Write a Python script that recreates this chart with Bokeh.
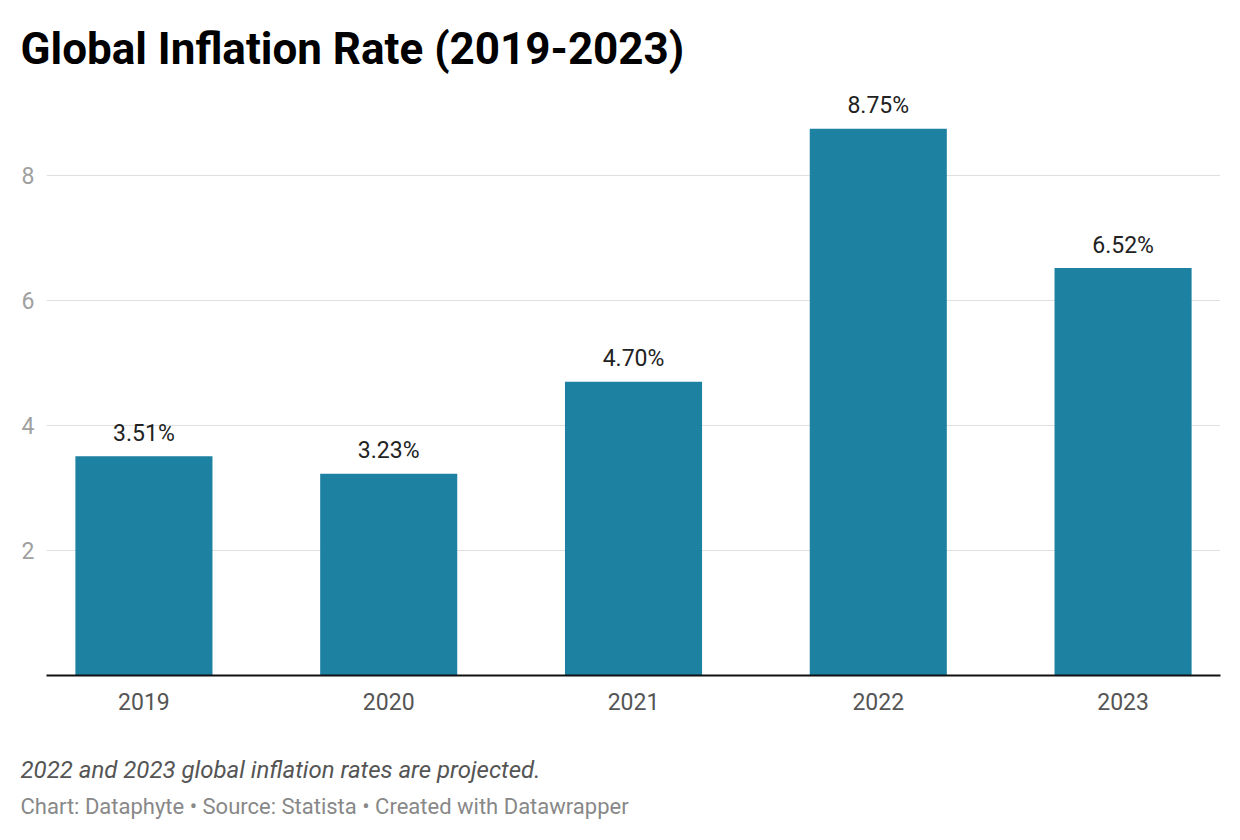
from bokeh.plotting import figure
from bokeh.models import Range1d, FixedTicker, Title, ColumnDataSource
from bokeh.core.properties import value
from bokeh.embed import file_html
from bokeh.resources import INLINE

years = ["2019", "2020", "2021", "2022", "2023"]
rates = [3.51, 3.23, 4.70, 8.75, 6.52]
labels = ["3.51%", "3.23%", "4.70%", "8.75%", "6.52%"]
y_ticks = [2, 4, 6, 8]

title_text = "Global Inflation Rate (2019-2023)"
note_text = "2022 and 2023 global inflation rates are projected."
source_text = "Chart: Dataphyte \u2022 Source: Statista \u2022 Created with Datawrapper"

xs = list(range(len(years)))
src = ColumnDataSource(dict(x=xs, top=rates, label=labels))

FONT = "Roboto"

p = figure(width=1240, height=840, output_backend="svg", toolbar_location=None,
           x_range=Range1d(-0.398, 4.398), y_range=Range1d(0, 9.28),
           min_border_left=46, min_border_right=20, min_border_top=95, min_border_bottom=165,
           background_fill_color="white", border_fill_color="white")
p.outline_line_color = None

p.title.text = title_text
p.title.text_font = FONT
p.title.text_font_size = "44px"
p.title.text_font_style = "bold"
p.title.text_color = "#000000"
p.title.align = "left"
p.title.offset = -26
p.title.standoff = 41

p.vbar(x="x", top="top", width=0.56, bottom=0, source=src, color="#1d81a2", line_color=None)
p.text(x="x", y="top", text="label", source=src, text_align="center", text_baseline="alphabetic",
       y_offset=-23, text_font=value(FONT), text_font_size="23px", text_color="#222222")

# axes
p.xaxis.ticker = FixedTicker(ticks=xs)
p.xaxis.major_label_overrides = {i: y for i, y in enumerate(years)}
p.xaxis.major_tick_line_color = None
p.xaxis.minor_tick_line_color = None
p.xaxis.axis_line_color = "#111111"
p.xaxis.axis_line_width = 2
p.xaxis.major_label_text_font = FONT
p.xaxis.major_label_text_font_size = "23px"
p.xaxis.major_label_text_color = "#555555"
p.xaxis.major_label_standoff = 11

p.yaxis.ticker = FixedTicker(ticks=y_ticks)
p.yaxis.axis_line_color = None
p.yaxis.major_tick_line_color = None
p.yaxis.minor_tick_line_color = None
p.yaxis.major_label_text_font = FONT
p.yaxis.major_label_text_font_size = "23px"
p.yaxis.major_label_text_color = "#a0a0a0"
p.yaxis.major_label_standoff = 6

p.xgrid.grid_line_color = None
p.ygrid.grid_line_color = "#e0e0e0"
p.ygrid.grid_line_width = 1

spacer = Title(text=" ", text_font_size="1px", standoff=38)
note = Title(text=note_text, align="left", offset=-26, text_font=FONT, text_font_size="24px",
             text_font_style="italic", text_color="#555555", standoff=0)
src_t = Title(text=source_text, align="left", offset=-26, text_font=FONT, text_font_size="22px",
              text_font_style="normal", text_color="#888888", standoff=16)
p.add_layout(spacer, "below")
p.add_layout(note, "below")
p.add_layout(src_t, "below")

open("out.html", "w").write(file_html(p, INLINE))
